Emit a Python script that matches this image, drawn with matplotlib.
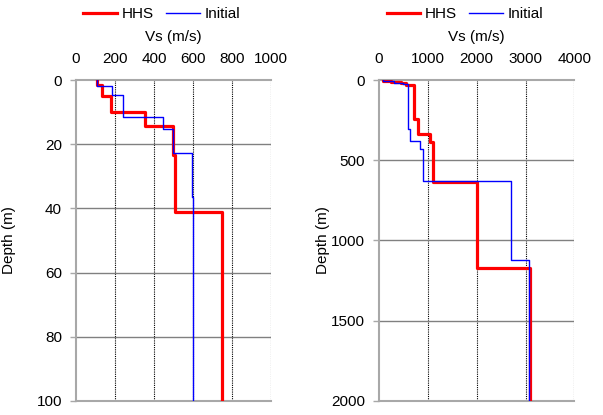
import numpy as np
import matplotlib
matplotlib.use("Agg")
import matplotlib.pyplot as plt
from matplotlib import font_manager

plt.rcParams["font.family"] = ["Liberation Sans", "DejaVu Sans"]
plt.rcParams["font.size"] = 11

# shallow profile (0-100 m): layer velocities and layer top depths
hhs1_vs = [106, 135, 178, 356, 500, 508, 748]
hhs1_top = [0, 1.6, 4.9, 9.9, 14.3, 23.4, 41.2]
ini1_vs = [106, 183, 240, 449, 496, 594, 599]
ini1_top = [0, 1.9, 4.7, 11.6, 15.1, 22.6, 36.3]
max1 = 100

# deep profile (0-2000 m)
hhs2_vs = [80, 250, 450, 560, 717, 806, 1045, 1112, 2014, 3099]
hhs2_top = [0, 5, 12, 20, 32, 243, 333, 385, 634, 1171]
ini2_vs = [80, 300, 500, 601, 635, 840, 895, 2703, 3078]
ini2_top = [0, 8, 15, 25, 308, 380, 430, 626, 1123]
max2 = 2000

narrow = [f.name for f in font_manager.fontManager.ttflist if f.name == "Liberation Sans Narrow"]


def profile(vs, top, zmax):
    bot = list(top[1:]) + [zmax]
    x = np.repeat(vs, 2)
    y = np.column_stack([top, bot]).ravel()
    return x, y


def panel(ax, hv, ht, iv, it, zmax, xmax, xstep, ystep, ylab_x):
    x, y = profile(hv, ht, zmax)
    ax.plot(x, y, color="red", lw=2.3, label="HHS", zorder=3)
    x, y = profile(iv, it, zmax)
    ax.plot(x, y, color="blue", lw=1.0, label="Initial", zorder=4)
    ax.set_xlim(0, xmax)
    ax.set_ylim(zmax, 0)
    ax.set_xticks(np.arange(0, xmax + 1, xstep))
    ax.set_yticks(np.arange(0, zmax + 1, ystep))
    ax.xaxis.tick_top()
    ax.xaxis.set_label_position("top")
    ax.set_xlabel("Vs (m/s)")
    ax.xaxis.set_label_coords(0.5, 1.134)
    ax.xaxis.label.set_va("center")
    ax.set_ylabel("Depth (m)")
    ax.yaxis.set_label_coords(ylab_x, 0.5)
    for xv in np.arange(xstep, xmax + 1, xstep):
        ax.axvline(xv, color="black", ls=(0, (1, 1)), lw=0.8, zorder=1)
    for yv in np.arange(ystep, zmax + 1, ystep):
        ax.axhline(yv, color="#808080", lw=1.0, zorder=1)
    for s in ["top", "left", "bottom"]:
        ax.spines[s].set_color("#a8a8a8")
        ax.spines[s].set_linewidth(1.5)
    ax.spines["right"].set_visible(False)
    ax.tick_params(axis="y", colors="#a8a8a8", labelcolor="black", length=4, width=1, pad=6)
    ax.tick_params(axis="x", top=True, bottom=False, length=0, pad=10)
    ax.legend(loc="center", bbox_to_anchor=(0.44, 1.206), ncol=2, frameon=False,
              handlelength=2.2, columnspacing=0.8, handletextpad=0.3, borderaxespad=0)


fig = plt.figure(figsize=(6.03, 4.15), dpi=100)
ax1 = fig.add_axes([0.126, 0.034, 0.323, 0.773])
ax2 = fig.add_axes([0.6285, 0.034, 0.324, 0.773])
panel(ax1, hhs1_vs, hhs1_top, ini1_vs, ini1_top, max1, 1000, 200, 20, -0.31)
panel(ax2, hhs2_vs, hhs2_top, ini2_vs, ini2_top, max2, 4000, 1000, 500, -0.25)
if narrow:
    for t in ax1.get_xticklabels():
        t.set_family("Liberation Sans Narrow")

fig.savefig("out.png", dpi=100)
